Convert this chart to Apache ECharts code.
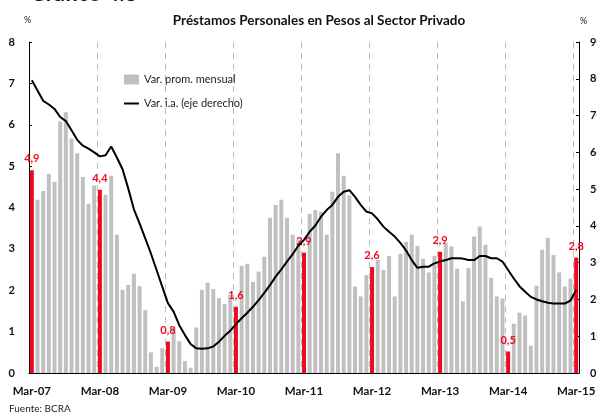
<!DOCTYPE html>
<html>
<head>
<meta charset="utf-8">
<script src="https://cdn.jsdelivr.net/npm/echarts@6/dist/echarts.min.js"></script>
<style>
  html, body { margin: 0; padding: 0; background: #fff; }
  #chart { width: 597px; height: 415px; }
</style>
</head>
<body>
<div id="chart"></div>
<script>
// monthly, Mar-07 .. Mar-15
const monthNames = ['Mar', 'Abr', 'May', 'Jun', 'Jul', 'Ago', 'Sep', 'Oct', 'Nov', 'Dic', 'Ene', 'Feb']
const categories = []
for (let i = 0; i < 97; i++) {
  const yr = 7 + Math.floor((i + 2) / 12)
  categories.push(monthNames[i % 12] + '-' + String(yr).padStart(2, '0'))
}

// Var. prom. mensual (%), eje izquierdo
const promMensual = [
  4.9, 4.19, 4.40, 4.81, 4.62, 6.08, 6.30, 5.67, 5.31, 4.74, 4.09, 4.53,
  4.43, 4.31, 4.77, 3.34, 2.01, 2.13, 2.40, 2.10, 1.52, 0.50, 0.15, 0.60,
  0.76, 1.10, 0.77, 0.29, 0.13, 1.10, 2.01, 2.18, 2.03, 1.81, 1.67, 1.89,
  1.60, 2.59, 2.64, 2.20, 2.45, 2.81, 3.75, 4.06, 4.19, 3.75, 3.34, 3.22,
  2.91, 3.85, 3.94, 3.90, 3.34, 4.38, 5.31, 4.77, 4.29, 2.09, 1.85, 2.37,
  2.56, 2.73, 2.49, 2.83, 1.85, 2.88, 3.17, 3.34, 3.07, 2.76, 2.43, 2.83,
  2.93, 3.15, 3.06, 2.52, 1.73, 2.54, 3.30, 3.54, 3.10, 2.30, 1.85, 1.80,
  0.52, 1.19, 1.46, 1.39, 0.66, 2.11, 2.98, 3.27, 2.85, 2.43, 2.09, 2.28,
  2.79
]

// Var. i.a. (%), eje derecho
const varIA = [
  79.6, 76.8, 74.0, 73.0, 71.8, 69.6, 68.5, 66.0, 63.4, 61.8, 61.0, 60.0,
  58.9, 59.2, 61.6, 58.6, 55.4, 50.2, 44.5, 40.7, 36.6, 32.5, 28.0, 23.5,
  19.0, 16.7, 13.0, 10.3, 7.9, 6.7, 6.6, 6.7, 7.2, 8.5, 10.1, 11.5,
  13.3, 14.9, 16.4, 18.0, 19.8, 21.8, 23.9, 26.2, 28.2, 30.3, 32.3, 34.6,
  36.2, 38.4, 40.1, 42.5, 44.3, 45.7, 47.9, 49.3, 49.7, 47.9, 45.7, 43.9,
  43.4, 41.8, 39.8, 38.4, 37.1, 35.4, 33.3, 30.7, 28.6, 28.9, 28.9, 29.8,
  30.3, 30.7, 31.2, 31.2, 31.1, 30.7, 30.7, 31.8, 31.8, 31.2, 31.2, 30.3,
  28.0, 25.7, 23.6, 22.1, 20.7, 20.0, 19.5, 19.1, 18.9, 18.9, 18.9, 19.7,
  22.6
]

const leftTicks = [0, 8, 1]
const rightTicks = [0, 90, 10]

const RED = '#ee0a22'
const GREY = '#c0c0c0'
const FONT = 'Lato'

const barData = promMensual.map((v, i) => {
  if (i % 12 !== 0) return v
  return {
    value: v,
    itemStyle: { color: RED },
    label: {
      show: true,
      position: 'top',
      distance: 6,
      color: RED,
      fontFamily: FONT,
      fontWeight: 'bold',
      fontSize: 11,
      formatter: (p) => p.value.toFixed(1).replace('.', ',')
    }
  }
})

const chart = echarts.init(document.getElementById('chart'), null, { renderer: 'canvas' })

chart.setOption({
  animation: false,
  textStyle: { fontFamily: FONT },
  title: {
    text: 'Préstamos Personales en Pesos al Sector Privado',
    left: 314,
    textAlign: 'center',
    top: 9,
    textStyle: { fontFamily: FONT, fontWeight: 'bold', fontSize: 13.5, color: '#111' }
  },
  graphic: [
    { type: 'text', left: 30, top: -17, style: { text: 'Gráfico 4.8', font: 'bold 22px Lato', fill: '#111' } },
    { type: 'text', left: 24, top: 16, style: { text: '%', font: '9px Lato', fill: '#222' } },
    { type: 'text', left: 580, top: 17, style: { text: '%', font: '9px Lato', fill: '#222' } },
    { type: 'text', left: 9, top: 404, style: { text: 'Fuente: BCRA', font: '10px Lato', fill: '#222' } }
  ],
  legend: {
    orient: 'vertical',
    left: 119,
    top: 69,
    itemWidth: 15,
    itemHeight: 10,
    itemGap: 13,
    textStyle: { fontFamily: FONT, fontSize: 11, color: '#222' },
    data: [
      { name: 'Var. prom. mensual', icon: 'rect' },
      { name: 'Var. i.a. (eje derecho)', icon: 'path://M0,0 L30,0 L30,4 L0,4 Z' }
    ]
  },
  grid: { left: 29, right: 18, top: 42, bottom: 42, outerBoundsMode: 'none', containLabel: false },
  xAxis: {
    type: 'category',
    data: categories,
    boundaryGap: true,
    axisLine: { lineStyle: { color: '#000', width: 1 } },
    axisTick: { show: false },
    axisLabel: {
      interval: (i) => i % 12 === 0,
      color: '#111',
      fontFamily: FONT,
      fontWeight: 'bold',
      fontSize: 11.5,
      margin: 12
    },
    splitLine: {
      show: true,
      interval: (i) => i % 12 === 0,
      lineStyle: { color: '#bdbdbd', type: [6, 5], width: 1 }
    }
  },
  yAxis: [
    {
      type: 'value',
      min: leftTicks[0],
      max: leftTicks[1],
      interval: leftTicks[2],
      axisLine: { show: true, lineStyle: { color: '#000', width: 1 } },
      axisTick: { show: true, inside: true, length: 3, lineStyle: { color: '#000' } },
      axisLabel: { color: '#111', fontFamily: FONT, fontWeight: 'bold', fontSize: 11, margin: 14 },
      splitLine: { show: false }
    },
    {
      type: 'value',
      min: rightTicks[0],
      max: rightTicks[1],
      interval: rightTicks[2],
      position: 'right',
      axisLine: { show: true, lineStyle: { color: '#000', width: 1 } },
      axisTick: { show: true, inside: true, length: 3, lineStyle: { color: '#000' } },
      axisLabel: { color: '#111', fontFamily: FONT, fontWeight: 'bold', fontSize: 11, margin: 11 },
      splitLine: { show: false }
    }
  ],
  series: [
    {
      name: 'Var. prom. mensual',
      type: 'bar',
      data: barData,
      barWidth: 4,
      itemStyle: { color: GREY },
      z: 2
    },
    {
      name: 'Var. i.a. (eje derecho)',
      type: 'line',
      yAxisIndex: 1,
      data: varIA,
      symbol: 'none',
      showSymbol: false,
      smooth: false,
      lineStyle: { color: '#000', width: 2 },
      itemStyle: { color: '#000' },
      z: 3
    }
  ]
})
</script>
</body>
</html>
